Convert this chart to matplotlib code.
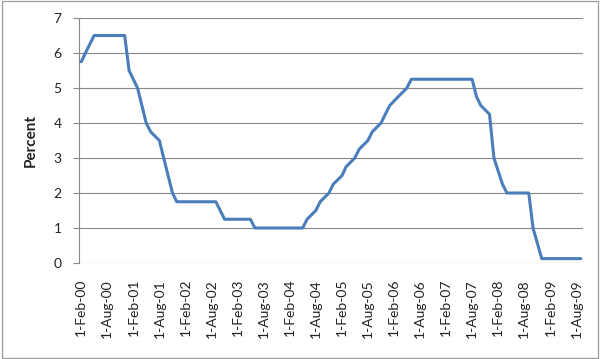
import matplotlib
matplotlib.use("Agg")
import matplotlib.pyplot as plt
import pandas as pd
from matplotlib.patches import Rectangle

# Scheduled FOMC meeting dates and federal funds target rate (percent)
meeting_dates = [
    "2000-02-02", "2000-03-21", "2000-05-16", "2000-06-28", "2000-08-22", "2000-10-03", "2000-11-15", "2000-12-19",
    "2001-01-31", "2001-03-20", "2001-05-15", "2001-06-27", "2001-08-21",
    "2001-10-02", "2001-11-06", "2001-12-11",
    "2002-01-30", "2002-03-19", "2002-05-07", "2002-06-26", "2002-08-13", "2002-09-24", "2002-11-06", "2002-12-10",
    "2003-01-29", "2003-03-18", "2003-05-06", "2003-06-25", "2003-08-12", "2003-09-16", "2003-10-28", "2003-12-09",
    "2004-01-28", "2004-03-16", "2004-05-04", "2004-06-30", "2004-08-10", "2004-09-21", "2004-11-10", "2004-12-14",
    "2005-02-02", "2005-03-22", "2005-05-03", "2005-06-30", "2005-08-09", "2005-09-20", "2005-11-01", "2005-12-13",
    "2006-01-31", "2006-03-28", "2006-05-10", "2006-06-29", "2006-08-08", "2006-09-20", "2006-10-25", "2006-12-12",
    "2007-01-31", "2007-03-21", "2007-05-09", "2007-06-28", "2007-08-07", "2007-09-18", "2007-10-31", "2007-12-11",
    "2008-01-30", "2008-03-18", "2008-04-30", "2008-06-25", "2008-08-05", "2008-09-16",
    "2008-10-29", "2008-12-16",
    "2009-01-28", "2009-03-18", "2009-04-29", "2009-06-24", "2009-08-12", "2009-09-23",
]
target_rate = [
    5.75, 6.00, 6.50, 6.50, 6.50, 6.50, 6.50, 6.50,
    5.50, 5.00, 4.00, 3.75, 3.50,
    2.50, 2.00, 1.75,
    1.75, 1.75, 1.75, 1.75, 1.75, 1.75, 1.25, 1.25,
    1.25, 1.25, 1.25, 1.00, 1.00, 1.00, 1.00, 1.00,
    1.00, 1.00, 1.00, 1.25, 1.50, 1.75, 2.00, 2.25,
    2.50, 2.75, 3.00, 3.25, 3.50, 3.75, 4.00, 4.25,
    4.50, 4.75, 5.00, 5.25, 5.25, 5.25, 5.25, 5.25,
    5.25, 5.25, 5.25, 5.25, 5.25, 4.75, 4.50, 4.25,
    3.00, 2.25, 2.00, 2.00, 2.00, 2.00,
    1.00, 0.125,
    0.125, 0.125, 0.125, 0.125, 0.125, 0.125,
]
tick_dates = [f"{y}-{m:02d}-01" for y in range(2000, 2010) for m in (2, 8)]
tick_labels = ["1-Feb-00", "1-Aug-00", "1-Feb-01", "1-Aug-01", "1-Feb-02", "1-Aug-02",
               "1-Feb-03", "1-Aug-03", "1-Feb-04", "1-Aug-04", "1-Feb-05", "1-Aug-05",
               "1-Feb-06", "1-Aug-06", "1-Feb-07", "1-Aug-07", "1-Feb-08", "1-Aug-08",
               "1-Feb-09", "1-Aug-09"]
y_ticks = [0, 1, 2, 3, 4, 5, 6, 7]

# Excel date axis with month base unit: each date is plotted at its month
months = [pd.Timestamp(d).to_period("M").to_timestamp() for d in meeting_dates]

plt.rcParams["font.family"] = ["Lato", "DejaVu Sans"]

fig = plt.figure(figsize=(6, 3.59), dpi=100)
fig.patch.set_facecolor("white")
fig.patches.append(Rectangle((2 / 600, 1 - 358 / 359), 596 / 600, 357 / 359,
                             transform=fig.transFigure, fill=False,
                             edgecolor="#9a9a9a", linewidth=0.9))

ax = fig.add_axes([79 / 600, 1 - 263 / 359, 504 / 600, 245 / 359])
ax.plot(months, target_rate, color="#4a7ebb", linewidth=2.2,
        solid_joinstyle="round", solid_capstyle="round", zorder=3)

ax.set_ylim(0, 7)
ax.set_yticks(y_ticks)
ax.grid(axis="y", color="#888888", linewidth=0.8)
ax.set_axisbelow(True)

ax.set_xlim(pd.Timestamp("2000-01-16"), pd.Timestamp("2009-09-16"))
ax.set_xticks([pd.Timestamp(t) for t in tick_dates])
ax.set_xticklabels(tick_labels, rotation=90)

for s in ["top", "right", "bottom"]:
    ax.spines[s].set_visible(False)
ax.spines["left"].set_color("#888888")
ax.spines["left"].set_linewidth(0.8)

ax.tick_params(axis="y", length=4, width=0.8, color="#888888", pad=8.5,
               labelsize=10, labelcolor="#222222")
ax.tick_params(axis="x", length=0, pad=11.5, labelsize=10, labelcolor="#222222")

ax.set_ylabel("Percent", fontsize=11, fontweight="bold", color="#222222")
ax.yaxis.set_label_coords(-0.081, 0.5)

fig.savefig("out.png", dpi=100)
